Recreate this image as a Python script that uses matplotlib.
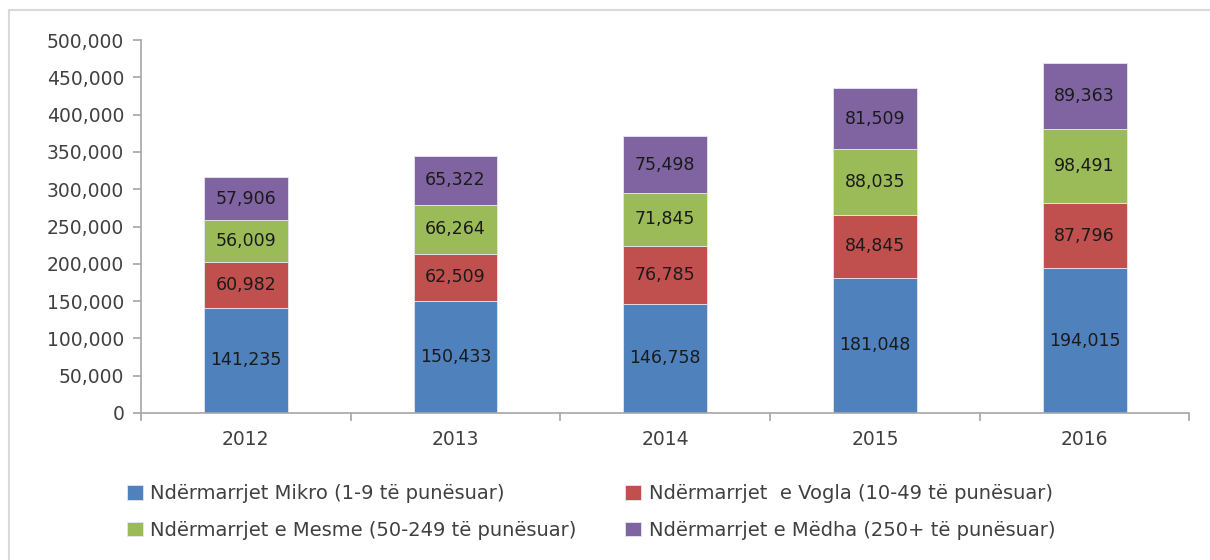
import numpy
import matplotlib.pyplot as plt
from matplotlib.patches import Rectangle
from matplotlib.ticker import FuncFormatter

years = ['2012', '2013', '2014', '2015', '2016']
mikro = [141235, 150433, 146758, 181048, 194015]
vogla = [60982, 62509, 76785, 84845, 87796]
mesme = [56009, 66264, 71845, 88035, 98491]
medha = [57906, 65322, 75498, 81509, 89363]

labels = ['Ndërmarrjet Mikro (1-9 të punësuar)',
          'Ndërmarrjet  e Vogla (10-49 të punësuar)',
          'Ndërmarrjet e Mesme (50-249 të punësuar)',
          'Ndërmarrjet e Mëdha (250+ të punësuar)']
colors = ['#4F81BD', '#C0504D', '#9BBB59', '#8064A2']

plt.rcParams['font.family'] = ['DejaVu Sans']

fig = plt.figure(figsize=(12.1, 5.6), dpi=100)
ax = fig.add_axes([0.1165, 0.2625, 0.8665, 0.666])

# outer frame of the chart
fig.patches.append(Rectangle((0.0075, -0.01), 1.1, 0.993, transform=fig.transFigure,
                             fill=False, edgecolor='#d9d9d9', linewidth=1.5))

x = numpy.arange(len(years))
bottom = numpy.zeros(len(years))
series = [mikro, vogla, mesme, medha]
bars = []
for vals, col, lab in zip(series, colors, labels):
    vals = numpy.array(vals)
    b = ax.bar(x, vals, 0.4, bottom=bottom, color=col, label=lab,
               edgecolor='#e6e6f0', linewidth=0.6)
    bars.append(b)
    for xi, b0, v in zip(x, bottom, vals):
        ax.text(xi, b0 + v / 2, f'{v:,}', ha='center', va='center',
                fontsize=12.5, color='#1a1a1a')
    bottom += vals

ax.set_xlim(-0.5, 4.5)
ax.set_ylim(0, 500000)
ax.set_yticks(numpy.arange(0, 500001, 50000))
ax.yaxis.set_major_formatter(FuncFormatter(lambda v, p: f'{int(v):,}'))
ax.set_xticks(x)
ax.set_xticklabels(years)
ax.set_xticks(numpy.arange(-0.5, 5, 1), minor=True)

for s in ['top', 'right']:
    ax.spines[s].set_visible(False)
for s in ['left', 'bottom']:
    ax.spines[s].set_color('#a6a6a6')
    ax.spines[s].set_linewidth(1.2)

ax.tick_params(axis='y', colors='#a6a6a6', labelcolor='#404040', labelsize=13.5,
               length=6, width=1.2, pad=6)
ax.tick_params(axis='x', which='major', length=0, labelcolor='#404040',
               labelsize=13.5, pad=12)
ax.tick_params(axis='x', which='minor', colors='#a6a6a6', length=6, width=1.2)

# row-major legend order: Mikro, Vogla / Mesme, Medha
order = [0, 2, 1, 3]
leg = fig.legend([bars[i] for i in order], [labels[i] for i in order],
                 loc='lower left', bbox_to_anchor=(0.0905, 0.005), ncol=2,
                 frameon=False, fontsize=14, handlelength=0.8, handleheight=0.8,
                 handletextpad=0.4, columnspacing=2.5, labelspacing=0.9)
for t in leg.get_texts():
    t.set_color('#404040')

fig.savefig('out.png', dpi=100)
